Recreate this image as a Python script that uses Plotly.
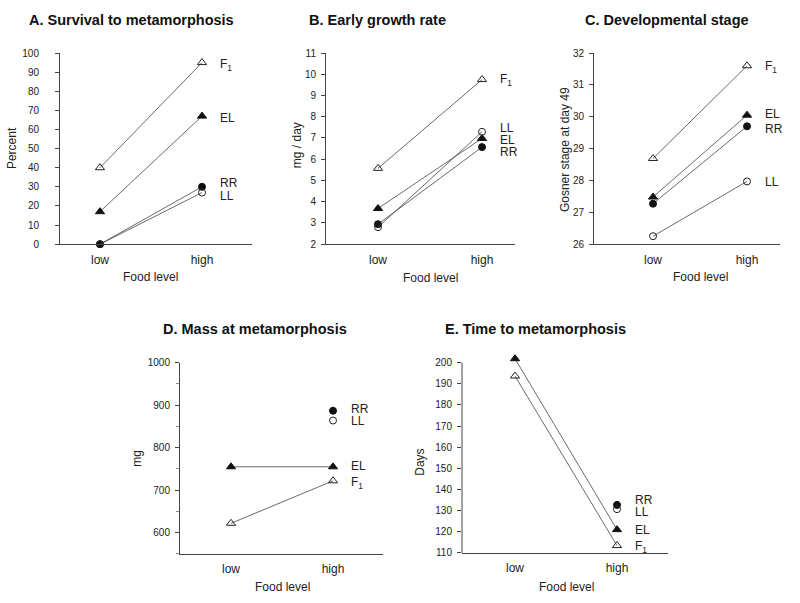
import plotly.graph_objects as go

food = ["low", "high"]
groups = ["F<sub>1</sub>", "EL", "RR", "LL"]

# Panel A: Survival to metamorphosis (percent)
A_F1 = [40, 95]
A_EL = [17, 67]
A_RR = [0, 30]
A_LL = [0, 27]
# Panel B: Early growth rate (mg/day)
B_F1 = [5.57, 9.75]
B_EL = [3.68, 6.98]
B_RR = [2.94, 6.57]
B_LL = [2.8, 7.29]
# Panel C: Developmental stage (Gosner stage at day 49)
C_F1 = [28.69, 31.6]
C_EL = [27.48, 30.05]
C_RR = [27.27, 29.7]
C_LL = [26.25, 27.97]
# Panel D: Mass at metamorphosis (mg)
D_F1 = [622, 722]
D_EL = [755, 755]
D_RR = [None, 887]
D_LL = [None, 864]
# Panel E: Time to metamorphosis (days)
E_F1 = [193.7, 113.5]
E_EL = [201.9, 121]
E_RR = [None, 132.7]
E_LL = [None, 130.7]

# label y-positions (order F1, EL, RR, LL)
A_lab = [93.8, 66.2, 32.0, 25.2]
B_lab = [9.75, 6.9, 6.35, 7.45]
C_lab = [31.57, 30.1, 29.6, 27.94]
D_lab = [716, 758, 891, 864]
E_lab = [113, 121, 135, 129.5]

FONT = "Liberation Sans, Arial, Helvetica, sans-serif"
TXT = "#222222"
LINE = "#444444"

styles = {
    "F1": dict(symbol="triangle-up-open", size=8, color="#222"),
    "EL": dict(symbol="triangle-up", size=8, color="#111"),
    "RR": dict(symbol="circle", size=7, color="#111"),
    "LL": dict(symbol="circle-open", size=7, color="#222"),
}
keys = ["F1", "EL", "RR", "LL"]

panels = [
    dict(n=1, data=[A_F1, A_EL, A_RR, A_LL], lab=A_lab, xdom=[60, 252], ydom=[48, 243],
         yr=[0, 100], dtick=10, xr=[-0.392, 1.49], std=14),
    dict(n=2, data=[B_F1, B_EL, B_RR, B_LL], lab=B_lab, xdom=[326, 515], ydom=[48, 243],
         yr=[2, 11], dtick=1, xr=[-0.5, 1.317], std=3),
    dict(n=3, data=[C_F1, C_EL, C_RR, C_LL], lab=C_lab, xdom=[594, 780], ydom=[48, 243],
         yr=[26, 32], dtick=1, xr=[-0.628, 1.351], std=3),
    dict(n=4, data=[D_F1, D_EL, D_RR, D_LL], lab=D_lab, xdom=[180, 383], ydom=[364, 559],
         yr=[550, 1000], dtick=100, xr=[-0.5, 1.49], std=3),
    dict(n=5, data=[E_F1, E_EL, E_RR, E_LL], lab=E_lab, xdom=[462, 668], ydom=[357.5, 558],
         yr=[110, 203], dtick=10, xr=[-0.52, 1.5], std=3),
]

W, H = 800, 603
fig = go.Figure()
annotations = []
shapes = []
layout = {}

for p in panels:
    n = p["n"]
    xa = "x" if n == 1 else f"x{n}"
    ya = "y" if n == 1 else f"y{n}"
    for k, vals in zip(keys, p["data"]):
        st = styles[k]
        fig.add_trace(go.Scatter(
            x=food, y=vals, xaxis=xa, yaxis=ya, mode="lines+markers",
            line=dict(color=LINE, width=0.8),
            marker=dict(symbol=st["symbol"], size=st["size"], color=st["color"],
                        line=dict(color=st["color"], width=1)),
            cliponaxis=False, showlegend=False, hoverinfo="skip"))
    for g, ly in zip(groups, p["lab"]):
        annotations.append(dict(x="high", y=ly, xref=xa, yref=ya, text=g, showarrow=False,
                                xanchor="left", yanchor="middle", xshift=16,
                                font=dict(family=FONT, size=12, color=TXT)))
    xkey = "xaxis" if n == 1 else f"xaxis{n}"
    ykey = "yaxis" if n == 1 else f"yaxis{n}"
    x0, x1 = p["xdom"]
    t, b = p["ydom"]
    layout[xkey] = dict(domain=[x0 / W, x1 / W], anchor=ya, range=p["xr"], type="category",
                        showline=True, linecolor=LINE, linewidth=1, ticks="", showgrid=False,
                        zeroline=False, tickfont=dict(family=FONT, size=12, color=TXT),
                        ticklabelstandoff=4, fixedrange=True)
    yd = dict(domain=[1 - b / H, 1 - t / H], anchor=xa, range=p["yr"], dtick=p["dtick"],
              showline=(n != 5), linecolor=LINE, linewidth=1, ticks="outside", ticklen=4,
              tickcolor=LINE, showgrid=False, zeroline=False,
              tickfont=dict(family=FONT, size=10, color=TXT), ticklabelstandoff=p["std"])
    if n == 4:
        yd["minor"] = dict(dtick=50, ticks="outside", ticklen=3, tickcolor="#888")
    if n == 5:
        yd["tickvals"] = list(range(110, 201, 10))
        shapes.append(dict(type="line", xref="x5 domain", yref="y5", x0=0, x1=0, y0=110, y1=200,
                           line=dict(color=LINE, width=1)))
    layout[ykey] = yd

# panel titles
titles = [("A. Survival to metamorphosis", 27, 14), ("B. Early growth rate", 307, 14),
          ("C. Developmental stage", 583, 14), ("D. Mass at metamorphosis", 161, 330),
          ("E. Time to metamorphosis", 443, 330)]
for txt, px, py in titles:
    annotations.append(dict(x=px / W, y=1 - py / H, xref="paper", yref="paper", text=f"<b>{txt}</b>",
                            showarrow=False, xanchor="left", yanchor="middle",
                            font=dict(family=FONT, size=14.5, color="#111")))

# axis titles
ytitles = [("Percent", 12, 145), ("mg / day", 297, 142), ("Gosner stage at day 49", 565, 147),
           ("mg", 137, 462), ("Days", 420, 466)]
for txt, px, py in ytitles:
    annotations.append(dict(x=px / W, y=1 - py / H, xref="paper", yref="paper", text=txt,
                            showarrow=False, textangle=-90, xanchor="center", yanchor="middle",
                            font=dict(family=FONT, size=12, color=TXT)))
xtitles = [(150, 277), (431, 278), (700, 277), (282, 593), (566, 593)]
for px, py in xtitles:
    annotations.append(dict(x=px / W, y=1 - py / H, xref="paper", yref="paper", text="Food level",
                            showarrow=False, xanchor="center", yanchor="middle",
                            font=dict(family=FONT, size=12, color=TXT)))

fig.update_layout(width=W, height=H, margin=dict(l=0, r=0, t=0, b=0),
                  paper_bgcolor="white", plot_bgcolor="white",
                  annotations=annotations, shapes=shapes, **layout)
fig.write_html("out.html", config={"displayModeBar": False},
               post_script="document.body.style.margin='0';")
